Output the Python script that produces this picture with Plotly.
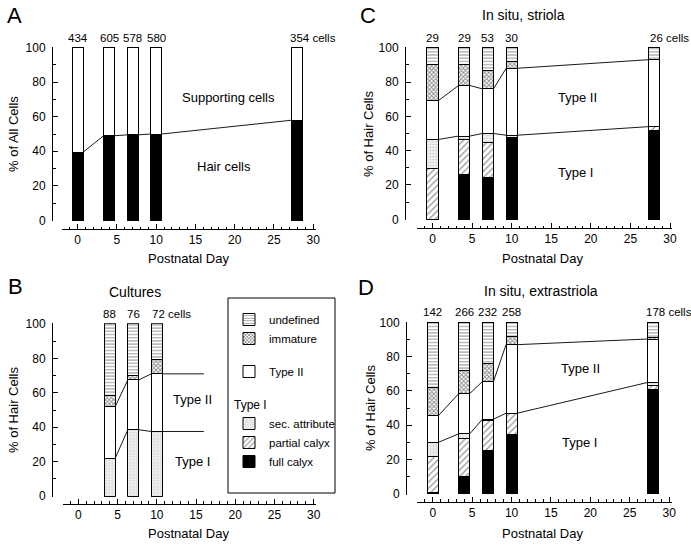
import plotly.graph_objects as go

# ---------------- data ----------------
days = [0, 4, 7, 10, 28]
days_B = [4, 7, 10]

# Panel A (% of all cells)
hair_A = [39.5, 49, 49.5, 50, 58]
support_A = [60.5, 51, 50.5, 50, 42]
counts_A = ["434", "605", "578", "580", "354"]

# Panel C (in situ, striola) - segment heights, % of hair cells
full_C = [0, 26, 24.5, 47.5, 52]
partial_C = [29.5, 20.5, 20.5, 0, 2]
sec_C = [17, 2, 5, 1.5, 0]
typeII_C = [22.5, 29.5, 26, 39, 39]
immature_C = [21, 12, 10.5, 4, 0]
undefined_C = [10, 10, 13.5, 8, 7]
counts_C = ["29", "29", "53", "30", "26"]

# Panel B (cultures)
full_B = [0, 0, 0]
partial_B = [0, 0, 0]
sec_B = [22, 38.5, 37.5]
typeII_B = [30, 29, 33.5]
immature_B = [6.5, 2.5, 8.5]
undefined_B = [41.5, 30, 20.5]
counts_B = ["88", "76", "72"]
guide_end_B = 16

# Panel D (in situ, extrastriola)
full_D = [0.8, 10, 25, 34.5, 61]
partial_D = [20.7, 22.5, 17.5, 12.5, 2]
sec_D = [8.5, 2.5, 1, 0, 2]
typeII_D = [15.5, 23.5, 22, 40, 25.3]
immature_D = [16.5, 13.5, 10.5, 5, 1]
undefined_D = [38, 28, 24, 8, 8.7]
counts_D = ["142", "266", "232", "258", "178"]

# ---------------- styling ----------------
W, H = 691, 545
FONT = "Liberation Sans, Arial, sans-serif"
BAR_W = 1.4


def px(x):
    return x / W


def py(y):
    return 1 - y / H


styles = {
    "full calyx": dict(color="black"),
    "partial calyx": dict(color="white", pattern=dict(shape="/", fgcolor="#333", bgcolor="white", size=4.5, solidity=0.3)),
    "sec. attribute": dict(color="#e6e6e6", pattern=dict(shape=".", fgcolor="#a8a8a8", bgcolor="#efefef", size=3, solidity=0.25)),
    "Type II": dict(color="white"),
    "immature": dict(color="white", pattern=dict(shape="x", fgcolor="#1a1a1a", bgcolor="white", size=3, solidity=0.55)),
    "undefined": dict(color="white", pattern=dict(shape="-", fgcolor="#222", bgcolor="white", size=3.2, solidity=0.3)),
}
groups = {"full calyx": "g3", "partial calyx": "g3", "sec. attribute": "g3",
          "Type II": "g2", "immature": "g1", "undefined": "g1"}
ranks = {"undefined": 1, "immature": 2, "Type II": 3, "sec. attribute": 4,
         "partial calyx": 5, "full calyx": 6}

# panel geometry (pixels): x-domain, y-domain(bottom, top), x-axis line y, y-axis line x
panels = {
    "A": dict(ax="", xd=(62, 315.5), yd=(221, 47), xl=229, yl=52),
    "C": dict(ax="2", xd=(416.7, 672.4), yd=(220, 47), xl=228, yl=405),
    "B": dict(ax="3", xd=(62.7, 316), yd=(496.7, 323.3), xl=503.5, yl=52),
    "D": dict(ax="4", xd=(417, 671.5), yd=(494.5, 321.7), xl=501.5, yl=406),
}

fig = go.Figure()
layout = dict(
    width=W, height=H, autosize=False,
    margin=dict(l=0, r=0, t=0, b=0, autoexpand=False),
    paper_bgcolor="white", plot_bgcolor="white",
    barmode="stack", font=dict(family=FONT, size=12, color="black"),
)

for name, p in panels.items():
    xk = "xaxis" + p["ax"]
    yk = "yaxis" + p["ax"]
    layout[xk] = dict(
        domain=[px(p["xd"][0]), px(p["xd"][1])], range=[-2, 30.3], automargin=False,
        anchor="free", position=py(p["xl"]), showline=True, linecolor="black", linewidth=1,
        ticks="inside", ticklen=5, tickwidth=1, tickcolor="black",
        tickvals=[0, 5, 10, 15, 20, 25, 30],
        minor=dict(dtick=1, ticks="inside", ticklen=2.5, tickcolor="black"),
        showgrid=False, zeroline=False, tickfont=dict(size=12),
    )
    layout[yk] = dict(
        domain=[py(p["yd"][0]), py(p["yd"][1])], range=[-0.4, 100.4], automargin=False,
        anchor="free", position=px(p["yl"]), showline=True, linecolor="black", linewidth=1,
        ticks="inside", ticklen=5, tickwidth=1, tickcolor="black",
        tickvals=[0, 20, 40, 60, 80, 100],
        minor=dict(dtick=10, ticks="inside", ticklen=2.5, tickcolor="black"),
        showgrid=False, zeroline=False, tickfont=dict(size=12), ticklabelstandoff=4,
    )


def axes(name):
    a = panels[name]["ax"]
    return "x" + a, "y" + a


def add_lines(name, d, bounds, extend=None):
    xa, ya = axes(name)
    xs, ys = [], []
    for i in range(len(d) - 1):
        xs += [d[i] + BAR_W / 2, d[i + 1] - BAR_W / 2, None]
        ys += [bounds[i], bounds[i + 1], None]
    if extend is not None:
        xs += [d[-1] + BAR_W / 2, extend, None]
        ys += [bounds[-1], bounds[-1], None]
    fig.add_trace(go.Scatter(x=xs, y=ys, mode="lines", line=dict(color="black", width=0.9),
                             xaxis=xa, yaxis=ya, showlegend=False, hoverinfo="skip"))


def add_counts(name, d, counts):
    xa, ya = axes(name)
    for i, (x, c) in enumerate(zip(d, counts)):
        last = i == len(d) - 1
        fig.add_annotation(x=x, y=100, xref=xa, yref=ya, text=c + (" cells" if last else ""),
                           showarrow=False, yanchor="bottom", yshift=2,
                           xanchor="left" if last else "center",
                           xshift=-len(c) * 3.2 if last else 0,
                           font=dict(size=11.5))


def cumsum(*series):
    out = []
    for vals in zip(*series):
        out.append(sum(vals))
    return out


# Panel A
xa, ya = axes("A")
fig.add_trace(go.Bar(x=days, y=hair_A, width=BAR_W, marker=dict(color="black", line=dict(color="black", width=1)),
                     xaxis=xa, yaxis=ya, showlegend=False))
fig.add_trace(go.Bar(x=days, y=support_A, width=BAR_W, marker=dict(color="white", line=dict(color="black", width=1)),
                     xaxis=xa, yaxis=ya, showlegend=False))
add_lines("A", days, hair_A)
add_counts("A", days, counts_A)


def add_stack(name, d, series, legend):
    xa, ya = axes(name)
    for cat, vals in series:
        st = styles[cat]
        marker = dict(color=st["color"], line=dict(color="black", width=1))
        if "pattern" in st:
            marker["pattern"] = st["pattern"]
        kw = {}
        if legend and cat == "sec. attribute":
            kw["legendgrouptitle"] = dict(text="Type I", font=dict(size=12))
        fig.add_trace(go.Bar(x=d, y=vals, width=BAR_W, marker=marker, name=cat,
                             legendgroup=groups[cat], legendrank=ranks[cat], showlegend=legend,
                             xaxis=xa, yaxis=ya, **kw))


for name, d, f, pa, s, t2, im, un, cnt, leg in [
    ("C", days, full_C, partial_C, sec_C, typeII_C, immature_C, undefined_C, counts_C, True),
    ("B", days_B, full_B, partial_B, sec_B, typeII_B, immature_B, undefined_B, counts_B, False),
    ("D", days, full_D, partial_D, sec_D, typeII_D, immature_D, undefined_D, counts_D, False),
]:
    add_stack(name, d, [("full calyx", f), ("partial calyx", pa), ("sec. attribute", s),
                        ("Type II", t2), ("immature", im), ("undefined", un)], leg)
    t1_top = cumsum(f, pa, s)
    t2_top = cumsum(f, pa, s, t2)
    ext = guide_end_B if name == "B" else None
    add_lines(name, d, t1_top, ext)
    add_lines(name, d, t2_top, ext)
    add_counts(name, d, cnt)


# in-plot labels
def label(name, x, y, text):
    xa, ya = axes(name)
    fig.add_annotation(x=x, y=y, xref=xa, yref=ya, text=text, showarrow=False,
                       xanchor="center", yanchor="middle", font=dict(size=13))


label("A", 19.2, 71, "Supporting cells")
label("A", 18.6, 31, "Hair cells")
label("C", 18.3, 71, "Type II")
label("C", 18.0, 27, "Type I")
label("B", 14.6, 56, "Type II")
label("B", 14.6, 20, "Type I")
label("D", 18.7, 73, "Type II")
label("D", 18.6, 30, "Type I")


def paper_text(t, x, y, size, angle=0):
    fig.add_annotation(x=px(x), y=py(y), xref="paper", yref="paper", text=t, showarrow=False,
                       xanchor="center", yanchor="middle", textangle=angle, font=dict(size=size))


# panel letters, titles, axis titles
for t, x, y in [("A", 14, 15), ("B", 15, 286), ("C", 368, 15), ("D", 366, 287)]:
    paper_text(t, x, y, 22)
for t, x, y in [("In situ, striola", 523, 15), ("Cultures", 135, 292), ("In situ, extrastriola", 541, 291)]:
    paper_text(t, x, y, 14)
for x, y in [(188, 258), (542, 258), (188, 533), (542, 533)]:
    paper_text("Postnatal Day", x, y, 13)
for t, x, y in [("% of All Cells", 13, 134), ("% of Hair Cells", 368, 134),
                ("% of Hair Cells", 13, 410), ("% of Hair Cells", 370, 408)]:
    paper_text(t, x, y, 13, -90)

# legend box
layout["shapes"] = [dict(type="rect", xref="paper", yref="paper", x0=px(228), x1=px(335),
                         y0=py(493), y1=py(298), line=dict(color="black", width=1), fillcolor="white",
                         layer="below")]
layout["legend"] = dict(x=px(229), y=py(305), xanchor="left", yanchor="top",
                        traceorder="grouped", tracegroupgap=14,
                        bgcolor="rgba(0,0,0,0)", borderwidth=0, font=dict(size=11.5),
                        itemclick=False)

fig.update_layout(**layout)
fig.write_html("out.html", config={"displayModeBar": False},
               post_script="document.body.style.margin='0px';document.body.style.overflow='hidden';")
